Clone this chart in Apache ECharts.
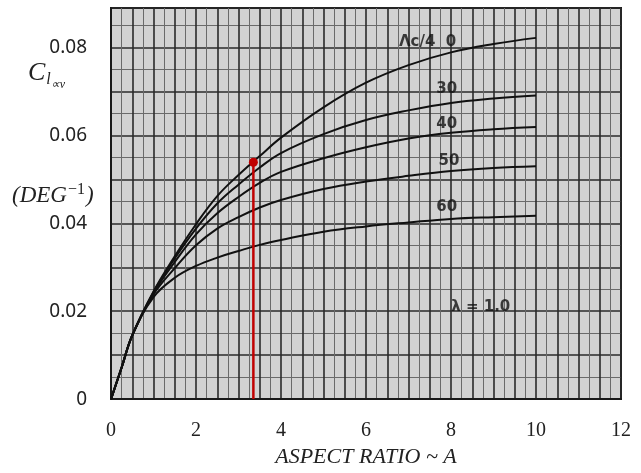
<!DOCTYPE html>
<html lang="en">
<head>
    <meta charset="utf-8">
    <title>Lift curve slope vs aspect ratio</title>
    <script src="https://cdn.jsdelivr.net/npm/echarts@6/dist/echarts.min.js"></script>
    <style>
        html, body { margin: 0; padding: 0; background: #fff; }
    </style>
</head>
<body>
<div id="main" style="width: 641px;height:473px;"></div>
<script type="text/javascript">
    // aspect ratio A (x) and lift slope per sweep angle (y)
    var aspectRatio = [0, 0.25, 0.5, 1, 1.5, 2, 2.5, 3, 3.5, 4, 5, 6, 7, 8, 9, 10];
    var sweep0  = [0, 0.0072, 0.0145, 0.0245, 0.0325, 0.0398, 0.0462, 0.0510, 0.0553, 0.0595, 0.0664, 0.0720, 0.0760, 0.0789, 0.0808, 0.0822];
    var sweep30 = [0, 0.0072, 0.0145, 0.0243, 0.0320, 0.0388, 0.0445, 0.0488, 0.0527, 0.0560, 0.0603, 0.0635, 0.0657, 0.0674, 0.0684, 0.0691];
    var sweep40 = [0, 0.0072, 0.0145, 0.0241, 0.0312, 0.0375, 0.0423, 0.0460, 0.0492, 0.0517, 0.0548, 0.0573, 0.0593, 0.0606, 0.0614, 0.0619];
    var sweep50 = [0, 0.0072, 0.0145, 0.0238, 0.0298, 0.0350, 0.0388, 0.0414, 0.0436, 0.0453, 0.0478, 0.0495, 0.0508, 0.0519, 0.0526, 0.0530];
    var sweep60 = [0, 0.0072, 0.0145, 0.0232, 0.0276, 0.0303, 0.0322, 0.0337, 0.0351, 0.0362, 0.0381, 0.0393, 0.0402, 0.0410, 0.0414, 0.0417];

    // red marker line
    var markerX = [3.35, 3.35];
    var markerY = [0, 0.0539];

    // handwritten notes on the chart
    var noteText = ['\u039Bc/4  0', '30', '40', '50', '60', '\u03BB = 1.0'];
    var noteX = [7.45, 7.9, 7.9, 7.95, 7.9, 8.7];
    var noteY = [0.0812, 0.0705, 0.0625, 0.0542, 0.0437, 0.0210];

    var xTicks = [0, 2, 4, 6, 8, 10, 12];
    var yTicks = [0, 0.02, 0.04, 0.06, 0.08];

    function pairs(xs, ys) {
        return xs.map(function (x, i) { return [x, ys[i]]; });
    }

    var myChart = echarts.init(document.getElementById('main'));

    var curves = [sweep0, sweep30, sweep40, sweep50, sweep60].map(function (vals) {
        return {
            type: 'line',
            data: pairs(aspectRatio, vals),
            smooth: 0.4,
            showSymbol: false,
            silent: true,
            lineStyle: { color: '#111', width: 2 },
            z: 5
        };
    });

    option = {
        backgroundColor: '#fff',
        animation: false,
        grid: {
            left: 111, right: 20, top: 8, bottom: 72,
            show: true,
            backgroundColor: '#d2d2d2',
            borderColor: '#1a1a1a',
            borderWidth: 2
        },
        xAxis: {
            type: 'value',
            min: 0, max: 12, interval: 0.5,
            name: 'ASPECT RATIO ~ A',
            nameLocation: 'middle',
            nameGap: 30,
            nameTextStyle: { fontFamily: 'Liberation Serif', fontStyle: 'italic', fontSize: 22, color: '#222' },
            axisLine: { lineStyle: { color: '#1a1a1a', width: 2 } },
            axisTick: { show: false },
            axisLabel: {
                margin: 22,
                fontFamily: 'Liberation Serif', fontSize: 20, color: '#222',
                formatter: function (v) {
                    for (var i = 0; i < xTicks.length; i++) {
                        if (Math.abs(v - xTicks[i]) < 1e-6) return String(xTicks[i]);
                    }
                    return '';
                }
            },
            splitLine: { lineStyle: { color: '#2a2a2a', width: 1.6 } },
            minorTick: { show: true, splitNumber: 2, length: 0 },
            minorSplitLine: { show: true, lineStyle: { color: '#6a6a6a', width: 1 } }
        },
        yAxis: {
            type: 'value',
            min: 0, max: 0.089, interval: 0.01,
            axisLine: { lineStyle: { color: '#1a1a1a', width: 2 } },
            axisTick: { show: false },
            axisLabel: {
                margin: 24,
                showMaxLabel: false,
                fontFamily: 'Noto Sans', fontSize: 19, color: '#222',
                formatter: function (v) {
                    for (var i = 0; i < yTicks.length; i++) {
                        if (Math.abs(v - yTicks[i]) < 1e-6) return yTicks[i] === 0 ? '0' : yTicks[i].toFixed(2);
                    }
                    return '';
                }
            },
            splitLine: { lineStyle: { color: '#2a2a2a', width: 1.6 } },
            minorTick: { show: true, splitNumber: 2, length: 0 },
            minorSplitLine: { show: true, lineStyle: { color: '#6a6a6a', width: 1 } }
        },
        graphic: [
            {
                type: 'text', left: 28, top: 60,
                style: {
                    text: '{c|C}{s|l}{ss|\u221Dv}',
                    rich: {
                        c: { fontFamily: 'Liberation Serif', fontStyle: 'italic', fontSize: 26, fill: '#222' },
                        s: { fontFamily: 'Liberation Serif', fontStyle: 'italic', fontSize: 16, fill: '#222', padding: [14, 0, 0, 1] },
                        ss: { fontFamily: 'Liberation Serif', fontStyle: 'italic', fontSize: 12, fill: '#222', padding: [24, 0, 0, 0] }
                    }
                }
            },
            {
                type: 'text', left: 12, top: 182,
                style: {
                    text: '{t|(DEG}{sup|\u22121}{t|)}',
                    rich: {
                        t: { fontFamily: 'Liberation Serif', fontStyle: 'italic', fontSize: 23, fill: '#222' },
                        sup: { fontFamily: 'Liberation Serif', fontSize: 16, fill: '#222', padding: [0, 1, 11, 1] }
                    }
                }
            }
        ],
        series: curves.concat([
            {
                type: 'line',
                data: pairs(markerX, markerY),
                silent: true,
                symbol: 'circle',
                symbolSize: function (val) { return val[1] > 0 ? 9 : 0; },
                showSymbol: true,
                itemStyle: { color: '#c00000' },
                lineStyle: { color: '#c00000', width: 2.5 },
                z: 6
            },
            {
                type: 'scatter',
                data: noteX.map(function (x, i) { return [x, noteY[i], noteText[i]]; }),
                symbolSize: 0,
                silent: true,
                label: {
                    show: true,
                    position: 'inside',
                    formatter: function (p) { return p.value[2]; },
                    fontFamily: 'DejaVu Sans', fontWeight: 'bold', fontSize: 15, color: '#111'
                },
                z: 7
            }
        ])
    };

    myChart.setOption(option);
</script>
</body>
</html>
